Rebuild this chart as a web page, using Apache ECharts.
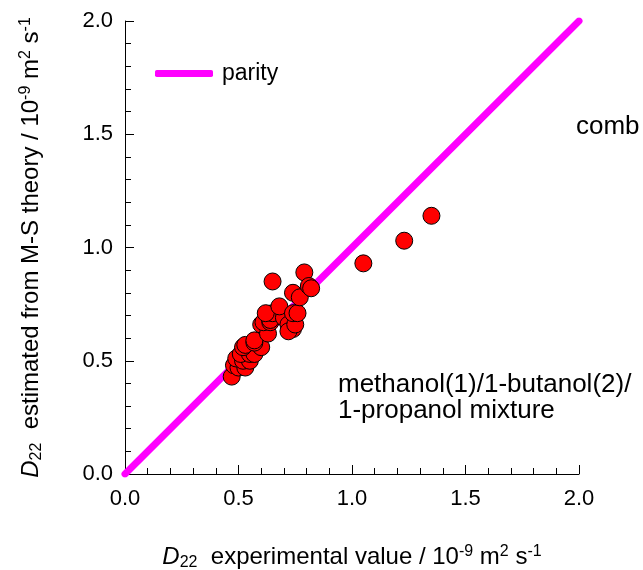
<!DOCTYPE html>
<html>
<head>
<meta charset="utf-8">
<script src="https://cdn.jsdelivr.net/npm/echarts@6/dist/echarts.min.js"></script>
<style>html,body{margin:0;padding:0;background:#fff}#c{width:643px;height:570px}</style>
</head>
<body>
<div id="c"></div>
<script>
// Parity line end points
const parityLine = [[0, 0], [2, 2]];
// Experimental D22 values (x) and M-S estimated D22 values (y)
const experimental = [0.47,0.48,0.50,0.53,0.49,0.52,0.55,0.51,0.55,0.57,0.52,0.53,0.60,0.57,0.57,0.60,0.63,0.61,0.64,0.64,0.65,0.62,0.70,0.68,0.72,0.74,0.72,0.75,0.74,0.76,0.74,0.77,0.79,0.81,0.82,0.65,1.05,1.23,1.35];
const estimated    = [0.43,0.48,0.47,0.47,0.51,0.50,0.50,0.53,0.53,0.53,0.56,0.57,0.56,0.58,0.59,0.66,0.62,0.67,0.67,0.68,0.71,0.71,0.69,0.74,0.66,0.64,0.63,0.66,0.71,0.71,0.80,0.78,0.89,0.83,0.82,0.85,0.93,1.03,1.14];
const tickLabels = ['0.0','0.5','1.0','1.5','2.0'];

const points = experimental.map((x, i) => [x, estimated[i]]);
const FONT = 'Liberation Sans, Arial, sans-serif';
const richName = {
  i: {fontStyle: 'italic', fontSize: 24, fontFamily: FONT, color: '#000'},
  t: {fontSize: 24, fontFamily: FONT, color: '#000'},
  sub: {fontSize: 16, fontFamily: FONT, color: '#000', padding: [11, 0, 0, 0]},
  sup: {fontSize: 16, fontFamily: FONT, color: '#000', padding: [0, 0, 11, 0]}
};
const axisCommon = {
  type: 'value', min: 0, max: 2, interval: 0.5,
  axisLine: {show: true, lineStyle: {color: '#000', width: 1}},
  axisTick: {show: true, inside: true, length: 9, lineStyle: {color: '#000'}},
  minorTick: {show: true, splitNumber: 5, length: 6, lineStyle: {color: '#000'}},
  splitLine: {show: false},
  axisLabel: {fontSize: 22, fontFamily: FONT, color: '#000', formatter: v => tickLabels[Math.round(v / 0.5)]}
};
const chart = echarts.init(document.getElementById('c'));
chart.setOption({
  animation: false,
  backgroundColor: '#fff',
  grid: {left: 125, right: 64, top: 21, bottom: 96, containLabel: false, outerBoundsMode: 'none'},
  legend: {
    data: [{name: 'parity', icon: 'roundRect'}],
    left: 150, top: 57, itemWidth: 58, itemHeight: 7,
    textStyle: {fontSize: 23, fontFamily: FONT, color: '#000', padding: [0, 0, 0, 4]},
    itemStyle: {color: '#ff00ff'}
  },
  xAxis: Object.assign({}, axisCommon, {
    name: '{i|D}{sub|22}{t|  experimental value / 10}{sup|-9}{t| m}{sup|2}{t| s}{sup|-1}',
    nameLocation: 'middle', nameGap: 70,
    nameTextStyle: {rich: richName},
    axisLabel: Object.assign({}, axisCommon.axisLabel, {margin: 14})
  }),
  yAxis: Object.assign({}, axisCommon, {
    name: '{i|D}{sub|22}{t|  estimated from M-S theory / 10}{sup|-9}{t| m}{sup|2}{t| s}{sup|-1}',
    nameLocation: 'middle', nameGap: 80, nameRotate: 90,
    nameTextStyle: {rich: richName},
    axisLabel: Object.assign({}, axisCommon.axisLabel, {margin: 12})
  }),
  graphic: [
    {type: 'text', left: 338, top: 372, style: {text: 'methanol(1)/1-butanol(2)/\n1-propanol mixture', font: '26px ' + FONT, fill: '#000', lineHeight: 26}},
    {type: 'text', left: 576, top: 114, style: {text: 'comb', font: '26px ' + FONT, fill: '#000'}}
  ],
  series: [
    {
      name: 'parity', type: 'line', data: parityLine, symbol: 'none',
      lineStyle: {color: '#ff00ff', width: 7, cap: 'round'}, z: 1
    },
    {
      name: 'data', type: 'scatter', data: points, symbolSize: 17,
      itemStyle: {color: '#ff0000', borderColor: '#000', borderWidth: 1, opacity: 1}, z: 2
    }
  ]
});
</script>
</body>
</html>
